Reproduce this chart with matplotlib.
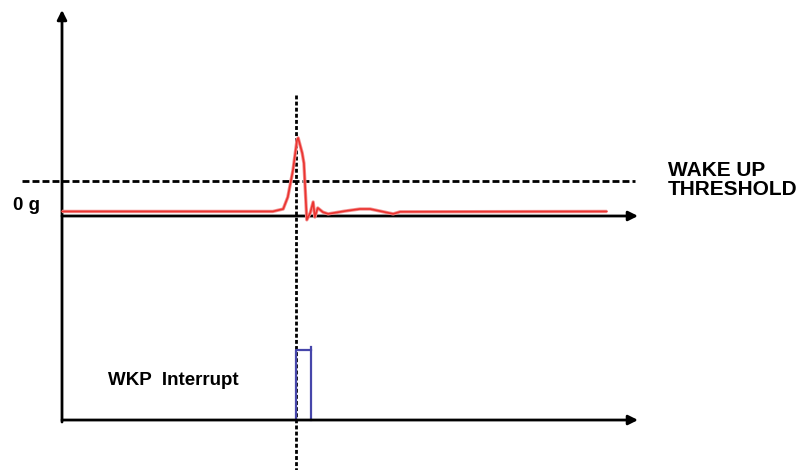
import matplotlib
matplotlib.use("Agg")
import matplotlib.pyplot as plt

plt.rcParams['font.family'] = ['Liberation Sans', 'DejaVu Sans']

# acceleration trace (time in arbitrary units, acceleration in threshold units)
t_acc = [0.0, 36.6, 38.4, 39.2, 40.1, 40.8, 41.0, 41.7, 42.0, 42.5, 43.1, 43.6,
         43.9, 44.4, 45.3, 46.2, 49.1, 51.7, 53.5, 57.5, 58.7, 94.6]
acc = [0.13, 0.13, 0.20, 0.54, 1.31, 2.17, 2.23, 1.80, 1.51, -0.11, 0.09, 0.40,
       -0.03, 0.23, 0.11, 0.06, 0.14, 0.20, 0.20, 0.06, 0.12, 0.13]
threshold = 1.0

# wake-up interrupt pulse
t_event = 40.7
wkp_t = [40.7, 40.7, 43.2]
wkp_level = [0, 1, 1]
wkp_fall_t = [43.2, 43.2]
wkp_fall_level = [1.05, 0]

t_axis_end = 100

fig = plt.figure(figsize=(8, 4.7), dpi=100)
ax1 = fig.add_axes([0, 0, 1, 1])
ax2 = fig.add_axes([0, 0, 1, 1])
ax2.patch.set_visible(False)
for ax in (ax1, ax2):
    ax.axis('off')
    ax.set_xlim(-10.764, 128.125)
ax1.set_ylim(-7.257, 6.171)
ax2.set_ylim(-0.714, 6.0)

arrow = dict(arrowstyle='-|>', lw=2.0, color='black', mutation_scale=14,
             shrinkA=0, shrinkB=0)

# axes drawn as arrows
ax1.annotate('', xy=(0, 5.886), xytext=(0, -5.886), arrowprops=arrow)
ax1.annotate('', xy=(t_axis_end, 0), xytext=(0, 0), arrowprops=arrow)
ax2.annotate('', xy=(t_axis_end, 0), xytext=(0, 0), arrowprops=arrow)

# wake-up threshold
ax1.plot([-6.94, 99.5], [threshold, threshold], color='black', lw=2.0,
         dashes=(2.5, 1.1))

# event marker
ax1.plot([t_event, t_event], [3.457, -7.257], color='black', lw=2.0,
         dashes=(1.4, 0.8))

# acceleration signal
ax1.plot(t_acc, acc, color='#f39191', lw=2.4, solid_capstyle='butt', zorder=3)
ax1.plot(t_acc, acc, color='#eb3430', lw=1.2, zorder=4)

# interrupt pulse
ax2.plot(wkp_t, wkp_level, color='#4646aa', lw=1.6)
ax2.plot(wkp_fall_t, wkp_fall_level, color='#4646aa', lw=1.6)

# labels
ax1.text(-8.5, 0.171, '0 g', fontsize=13.5, fontweight='bold', va='baseline',
         ha='left')
ax1.text(105.2, 1.571, 'WAKE UP\nTHRESHOLD', fontsize=15, fontweight='bold',
         va='top', ha='left', linespacing=1.0)
ax2.text(7.99, 0.5, 'WKP  Interrupt', fontsize=13.5, fontweight='bold',
         va='baseline', ha='left')

fig.savefig('out.png', dpi=100)
